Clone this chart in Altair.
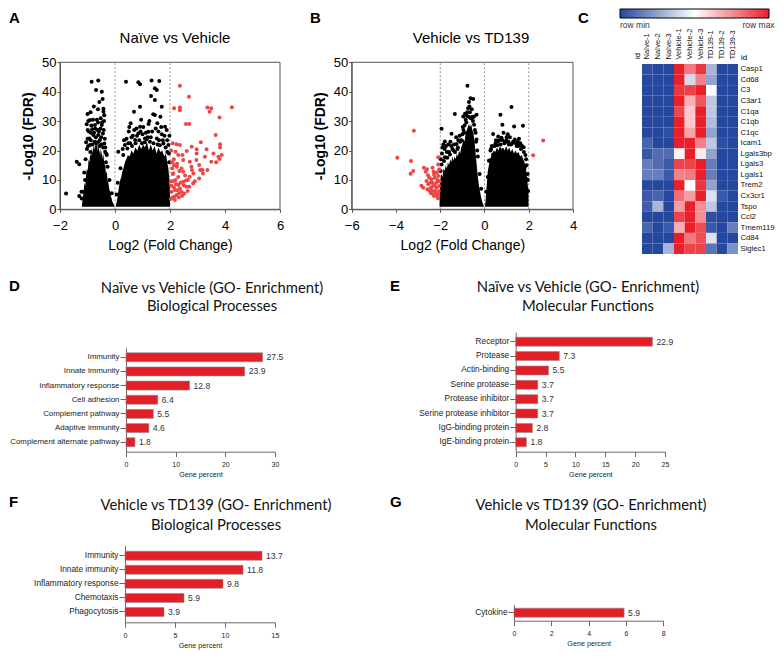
import altair as alt
import pandas as pd

W, H = 768, 643
ARIAL = "Liberation Sans"
TFONT = "Lato"
AX = "#555555"
BAX = "#6a6a6a"
BAR_RED = "#e21f26"
PT_RED = "#ec4646"

# ---------------- Panel A : Naive vs Vehicle volcano ----------------
a_core_left_x = [-1.20, -1.17, -1.14, -1.11, -1.08, -1.05, -1.02, -0.99, -0.96, -0.93, -0.90, -0.87, -0.84,
                 -0.81, -0.78, -0.75, -0.72, -0.69, -0.66, -0.63, -0.60, -0.57, -0.54, -0.51, -0.48, -0.45,
                 -0.42, -0.39, -0.36, -0.33, -0.30, -0.27, -0.24, -0.21, -0.18, -0.15, -0.12, -0.09, -0.06,
                 -0.03, -0.01]
a_core_left_top = [1.5, 4, 6, 9, 8, 12, 14, 13, 17, 16, 19, 18, 21, 19, 22, 20, 23, 21, 24, 20, 22, 19, 21,
                   18, 20, 17, 19, 15, 16, 12, 13, 10, 9, 7, 6, 4.5, 3.5, 2.5, 2, 1.3, 1]
a_core_right_x = [0.03, 0.06, 0.09, 0.12, 0.15, 0.19, 0.23, 0.27, 0.31, 0.36, 0.41, 0.47, 0.53, 0.60, 0.67,
                  0.74, 0.81, 0.88, 0.95, 1.02, 1.09, 1.16, 1.23, 1.30, 1.37, 1.44, 1.51, 1.58, 1.65, 1.72,
                  1.79, 1.85, 1.90, 1.94, 1.97, 1.99, 2.00]
a_core_right_top = [1, 2.5, 4, 6, 8, 10, 11, 13, 14, 16, 17, 18.5, 18, 20, 19, 21, 20, 22, 20.5, 22, 21, 23,
                    20, 22, 20, 21.5, 19, 21, 19.5, 20, 18, 19, 16, 14, 11, 8, 4]
a_black_x = [-0.85, -0.61, -0.69, -0.48, -1.0, -0.42, -0.39, -0.91, -1.03, -0.73, -0.48, -0.79, -0.61, -0.93, -0.55,
             -1.05, -0.39, -1.39, -1.30, -1.78, -1.30, -1.21, -1.15, -1.09, -0.36, -0.91, -0.30,
             -1.12, -1.07, -0.98, -0.88, -0.70, -0.58, -0.50, -0.44, -0.33, -0.27, -0.20, -0.12, -1.22, -0.83,
             -0.66, -0.52, -0.77, -0.57, -0.95, -0.45,
             -1.02, -1.00, -0.99, -0.97, -0.90, -0.88, -0.86, -0.82, -0.80, -0.76, -0.74, -0.72, -0.68, -0.64,
             -0.62, -0.60, -0.56, -0.53, -0.50, -0.47, -0.43, -0.41, -0.40, -0.37, -0.35, -0.32, -0.42, -0.62,
             -0.89,
             0.40, 0.85, 0.91, 1.33, 1.61, 1.45, 1.52, 1.31, 1.45, 0.91, 0.69, 1.70, 1.39, 1.45, 0.57, 1.54,
             0.91, 1.82, 1.88, 1.21, 0.85, 0.36, 0.45, 0.12, 1.76, 1.94, 1.09, 1.52, 0.73,
             0.20, 0.30, 0.55, 0.65, 1.00, 1.15, 1.30, 1.60, 1.70, 1.90, 1.97, 0.10, 0.06, 0.95, 1.25, 1.65,
             0.50, 0.78,
             0.28, 0.33, 0.42, 0.48, 0.52, 0.60, 0.62, 0.70, 0.75, 0.80, 0.88, 0.93, 0.98, 1.03, 1.08, 1.12,
             1.18, 1.22, 1.27, 1.35, 1.40, 1.48, 1.55, 1.58, 1.63, 1.68, 1.74, 1.80, 1.84, 1.90, 1.96, 1.98]
a_black_y = [43.4, 43.8, 40.6, 40.0, 32.4, 33.2, 32.0, 30.4, 28.9, 28.7, 28.7, 25.3, 25.3, 24.1, 23.6,
             22.8, 22.4, 16.2, 15.3, 5.4, 4.5, 3.7, 6.0, 10.0, 19.6, 21.9, 18.5,
             12.5, 17.0, 21.5, 23.5, 24.5, 26.5, 24.5, 25.8, 16.0, 14.5, 10.0, 5.5, 6.0, 27.2,
             30.5, 31.0, 35.0, 36.5, 26.5, 37.5,
             20.5, 24.0, 27.0, 30.0, 19.5, 26.0, 28.5, 22.0, 30.5, 26.0, 23.0, 27.5, 22.5, 27.0,
             29.5, 23.0, 21.5, 27.5, 22.0, 29.5, 21.0, 27.0, 30.0, 24.0, 21.0, 19.0, 34.2, 34.0,
             33.0,
             43.4, 43.2, 42.5, 43.8, 43.6, 41.2, 40.6, 38.5, 37.2, 34.9, 33.2, 34.9, 32.3, 32.1, 29.3, 29.3,
             28.1, 28.1, 27.0, 26.4, 25.9, 21.9, 20.7, 19.6, 22.4, 21.9, 24.1, 24.1, 23.6,
             14.0, 18.5, 22.5, 25.0, 25.5, 23.8, 24.5, 23.5, 25.5, 19.5, 16.0, 9.0, 5.0, 30.5, 30.0, 31.5,
             26.5, 27.5,
             20.5, 23.5, 24.0, 22.5, 28.0, 24.5, 21.5, 27.0, 22.5, 25.0, 23.5, 26.5, 22.5, 28.0, 22.8, 26.0,
             24.5, 29.0, 23.0, 26.5, 22.5, 27.5, 22.0, 26.5, 21.8, 28.0, 23.5, 25.0, 21.0, 23.5, 19.0, 25.0]
a_red_x = [2.36, 2.69, 2.15, 2.36, 2.36, 3.36, 3.50, 3.44, 4.25, 3.80, 2.58, 2.70, 3.66, 2.24, 2.36, 3.12,
           3.82, 3.82, 2.79, 2.97, 3.33, 2.61, 3.58, 3.88, 3.76, 3.27, 2.97, 2.30, 2.48, 2.72, 2.96, 3.50,
           3.68, 3.80, 3.06, 2.78, 2.42, 3.18, 2.85, 2.48, 2.12, 2.72, 3.06, 2.48, 2.84, 2.30, 2.60, 2.18,
           2.42, 2.24, 2.36, 2.20, 2.15, 2.20, 2.45, 2.90, 2.15, 2.52, 2.70, 2.30, 3.10, 3.36, 3.20, 2.80,
           2.05, 2.10, 2.08, 2.25, 2.12, 2.55, 2.65, 2.33,
           2.03, 2.06, 2.10, 2.14, 2.18, 2.22, 2.27, 2.32, 2.38, 2.44, 2.50, 2.58, 2.64, 2.04, 2.08, 2.14,
           2.26, 2.34, 2.04, 2.10]
a_red_y = [42.0, 38.3, 34.4, 34.6, 33.7, 34.6, 34.4, 33.2, 34.7, 31.2, 29.0, 29.0, 25.3, 22.1, 21.9, 22.8,
           22.1, 21.0, 21.3, 20.4, 20.4, 19.8, 19.0, 18.5, 17.9, 17.9, 19.0, 18.5, 16.8, 16.2, 16.8, 16.2,
           16.0, 17.1, 15.1, 14.5, 13.9, 13.4, 12.2, 12.8, 12.2, 11.1, 10.5, 9.4, 8.8, 8.3, 7.7, 6.6,
           6.0, 4.9, 7.1, 10.0, 15.0, 19.6, 18.5, 9.5, 4.3, 5.4, 7.7, 11.0, 13.4, 13.4, 12.2, 13.4,
           8.0, 12.0, 16.0, 14.5, 9.5, 11.5, 10.0, 5.5,
           3.5, 6.0, 4.0, 7.5, 3.2, 8.5, 6.5, 4.0, 9.0, 4.6, 8.2, 9.8, 6.2, 9.5, 14.0, 17.0,
           15.5, 13.0, 20.0, 22.5]
a_cuts = [0, 2]
a_xticks = [-2, 0, 2, 4, 6]

# ---------------- Panel B : Vehicle vs TD139 volcano ----------------
b_core_left_x = [-2.03, -2.0, -1.95, -1.9, -1.85, -1.8, -1.75, -1.7, -1.65, -1.6, -1.55, -1.5, -1.45, -1.4,
                 -1.35, -1.3, -1.25, -1.2, -1.15, -1.1, -1.05, -1.0, -0.95, -0.9, -0.85, -0.8, -0.75, -0.7,
                 -0.65, -0.6, -0.55, -0.5, -0.45, -0.4, -0.35, -0.3, -0.25, -0.2, -0.15, -0.1, -0.05, -0.02]
b_core_left_top = [2, 10, 12, 11, 14, 13, 15, 14, 16, 15, 17, 16, 18, 16.5, 18, 17, 19, 18, 20, 19, 21, 22,
                   24, 23, 26, 27, 28, 29, 28, 29, 27, 26, 23, 19, 15, 11, 8, 6, 4, 2.5, 1.5, 1]
b_core_right_x = [0.02, 0.05, 0.08, 0.11, 0.15, 0.2, 0.25, 0.3, 0.36, 0.42, 0.49, 0.56, 0.63, 0.7, 0.77, 0.84,
                  0.91, 0.98, 1.05, 1.12, 1.19, 1.26, 1.33, 1.4, 1.47, 1.54, 1.61, 1.68, 1.75, 1.81, 1.87,
                  1.92, 1.96, 1.99]
b_core_right_top = [1, 3, 6, 9, 13, 15, 17, 18, 19, 20, 19.5, 21, 20, 21.5, 20.5, 21, 20, 21.5, 20, 21, 19.5,
                    20.5, 19, 20, 19, 19.5, 18, 18.5, 17, 16, 14, 11, 8, 5]
b_black_x = [-0.77, -0.63, -0.51, -0.74, -1.34, -0.96, -0.81, -0.59, -0.36, -1.94, -1.49, -1.79, -1.64, -1.26,
             -0.47, -0.36, -1.79, -1.83, -1.56, -1.94,
             -1.10, -1.00, -0.90, -1.70, -1.40, -1.20, -0.85, -0.66, -0.55, -0.40, -0.30, -0.22, -0.15, -1.98,
             -1.90, -1.50, -0.95, -0.70,
             -1.97, -1.92, -1.86, -1.80, -1.74, -1.68, -1.60, -1.54, -1.45, -1.38, -1.33, -1.28, -1.22, -1.18,
             -1.12, -1.05, -0.98, -0.92, -0.88, -0.82, -0.78, -0.72, -0.68, -0.62, -0.57, -0.52, -0.48, -0.43,
             -0.38, -0.33,
             1.22, 0.72, 0.81, 1.34, 1.74, 0.39, 0.62, 0.99, 1.59, 1.77, 0.24, 0.39, 1.82, 1.92, 1.97, 1.37, 0.77,
             0.15, 0.30, 0.50, 0.90, 1.10, 1.25, 1.45, 1.65, 1.88, 1.95, 0.08, 0.60, 1.05, 1.50,
             0.20, 0.27, 0.33, 0.45, 0.52, 0.58, 0.67, 0.73, 0.82, 0.86, 0.93, 1.00, 1.08, 1.15, 1.20, 1.30,
             1.42, 1.52, 1.56, 1.62, 1.70, 1.78, 1.85, 1.90, 1.96]
b_black_y = [42.0, 37.8, 37.5, 34.4, 32.4, 31.6, 31.8, 31.0, 32.2, 27.4, 25.7, 23.1, 22.0, 22.2,
             28.8, 23.7, 17.7, 16.4, 18.6, 15.2,
             23.0, 25.5, 28.5, 19.5, 20.0, 21.0, 30.5, 33.0, 31.5, 26.0, 18.0, 12.0, 7.0, 13.0,
             21.0, 21.5, 27.0, 36.5,
             17.0, 19.0, 22.0, 20.5, 21.5, 17.5, 19.5, 23.0, 20.5, 22.0, 19.5, 24.5, 20.5, 23.5,
             25.0, 23.5, 28.0, 26.0, 32.5, 29.5, 33.0, 31.5, 35.0, 31.0, 34.0, 30.0, 31.5, 27.0,
             23.0, 20.0,
             34.8, 32.2, 28.8, 28.2, 28.4, 25.6, 24.8, 23.4, 21.8, 21.1, 16.6, 18.6, 14.1, 10.2, 6.2, 23.7, 24.3,
             11.0, 20.5, 22.5, 22.5, 22.0, 22.5, 21.5, 20.5, 17.0, 12.0, 6.0, 23.0, 25.5, 23.0,
             16.5, 20.0, 21.5, 21.5, 23.5, 21.8, 23.5, 22.0, 23.5, 26.0, 22.8, 24.5, 23.0, 24.5, 22.0, 23.0,
             22.5, 21.5, 24.0, 22.5, 21.5, 19.5, 18.5, 15.0, 10.0]
b_red_x = [-3.19, -3.94, -3.32, -3.22, -3.34, -2.74, -2.65, -2.35, -2.09, -2.09, -2.77, -2.54, -2.39, -2.32,
           -2.24, -2.17, -2.47, -2.24, -2.09, -2.32, -2.17, -2.09, -2.62, -2.50, -2.05, -2.06, -2.42, -2.35,
           -2.20, -2.12, -2.28, -2.42, -2.58, -2.15, -2.28, -2.60, -2.85, 2.20, 2.65,
           -2.03, -2.10, -2.18, -2.26, -2.38, -2.45, -2.55, -2.30, -2.05, -2.12]
b_red_y = [26.7, 17.5, 16.4, 13.0, 12.1, 14.1, 12.8, 14.1, 17.7, 15.2, 7.3, 8.5, 10.2, 7.9,
           10.7, 9.0, 6.2, 6.2, 5.1, 5.1, 7.3, 11.3, 9.6, 10.7, 7.9, 6.2, 7.3, 9.0,
           5.6, 4.2, 4.5, 5.5, 6.8, 12.5, 11.8, 13.6, 8.0, 18.4, 23.4,
           9.5, 3.8, 4.8, 8.2, 6.4, 9.0, 11.6, 12.8, 13.5, 10.0]
b_cuts = [-2, 0, 2]
b_xticks = [-6, -4, -2, 0, 2, 4]
fdr_ticks = [0, 10, 20, 30, 40, 50]

# ---------------- Panel C : heatmap ----------------
samples = ["Naïve-1", "Naïve-2", "Naïve-3", "Vehicle-1", "Vehicle-2", "Vehicle-3", "TD139-1", "TD139-2", "TD139-3"]
genes = ["Casp1", "Cd68", "C3", "C3ar1", "C1qa", "C1qb", "C1qc", "Icam1", "Lgals3bp", "Lgals3",
         "Lgals1", "Trem2", "Cx3cr1", "Tspo", "Ccl2", "Tmem119", "Cd84", "Siglec1"]
heat_rows = [
    [0.02, 0.00, 0.00, 1.00, 0.80, 0.95, 0.30, 0.00, 0.00],
    [0.00, 0.00, 0.00, 1.00, 0.40, 0.78, 0.25, 0.00, 0.00],
    [0.00, 0.00, 0.00, 0.95, 0.93, 1.00, 0.50, 0.00, 0.00],
    [0.00, 0.00, 0.00, 1.00, 0.68, 0.88, 0.35, 0.00, 0.00],
    [0.00, 0.00, 0.00, 0.92, 0.62, 1.00, 0.35, 0.00, 0.00],
    [0.00, 0.00, 0.00, 1.00, 0.62, 1.00, 0.32, 0.00, 0.00],
    [0.00, 0.00, 0.02, 1.00, 0.70, 1.00, 0.25, 0.00, 0.00],
    [0.08, 0.00, 0.00, 1.00, 1.00, 0.78, 0.35, 0.02, 0.00],
    [0.04, 0.10, 0.10, 0.52, 1.00, 0.55, 0.25, 0.00, 0.00],
    [0.15, 0.10, 0.05, 0.92, 0.92, 1.00, 0.15, 0.00, 0.00],
    [0.15, 0.15, 0.05, 0.78, 0.80, 1.00, 0.15, 0.00, 0.00],
    [0.00, 0.00, 0.00, 1.00, 0.50, 0.95, 0.25, 0.00, 0.00],
    [0.05, 0.08, 0.00, 0.82, 0.72, 1.00, 0.42, 0.05, 0.00],
    [0.06, 0.30, 0.00, 0.72, 1.00, 0.75, 0.35, 0.00, 0.00],
    [0.00, 0.00, 0.00, 0.92, 1.00, 0.75, 0.02, 0.00, 0.00],
    [0.08, 0.00, 0.05, 0.68, 1.00, 0.90, 0.05, 0.00, 0.15],
    [0.00, 0.00, 0.00, 1.00, 0.80, 0.90, 0.42, 0.00, 0.00],
    [0.00, 0.00, 0.30, 1.00, 0.92, 0.92, 0.12, 0.00, 0.20],
]

# ---------------- Panels D-G : GO enrichment bars ----------------
d_cats = ["Immunity", "Innate immunity", "Inflammatory response", "Cell adhesion",
          "Complement pathway", "Adaptive immunity", "Complement alternate pathway"]
d_vals = [27.5, 23.9, 12.8, 6.4, 5.5, 4.6, 1.8]
e_cats = ["Receptor", "Protease", "Actin-binding", "Serine protease", "Protease inhibitor",
          "Serine protease inhibitor", "IgG-binding protein", "IgE-binding protein"]
e_vals = [22.9, 7.3, 5.5, 3.7, 3.7, 3.7, 2.8, 1.8]
f_cats = ["Immunity", "Innate immunity", "Inflammatory response", "Chemotaxis", "Phagocytosis"]
f_vals = [13.7, 11.8, 9.8, 5.9, 3.9]
g_cats = ["Cytokine"]
g_vals = [5.9]


def text(txt, x, y, size, font=ARIAL, weight="normal", align="center", baseline="middle",
         angle=0, color="black"):
    kw = dict(font=font, fontSize=size, fontWeight=weight, align=align, baseline=baseline, color=color)
    if angle:
        kw["angle"] = angle
    return alt.Chart().mark_text(**kw).encode(x=alt.value(x), y=alt.value(y), text=alt.value(txt))


Y0, Y50 = 201.3, 54.3


def volcano(lx, ltop, rx, rtop, bx, by, rdx, rdy, cuts, xdom, xticks, xr):
    xs = alt.Scale(domain=xdom, range=xr, nice=False, zero=False)
    ys = alt.Scale(domain=[0, 50], range=[Y0, Y50], nice=False, zero=False)
    xaxis = alt.Axis(orient="bottom", offset=Y0 - H, values=xticks, title="Log2 (Fold Change)", grid=False,
                     tickSize=3, labelPadding=7, titlePadding=6, labelFontSize=13, titleFontSize=14,
                     titleFontWeight="normal", labelColor="black", titleColor="black", domainColor=AX,
                     tickColor=AX, labelFont=ARIAL, titleFont=ARIAL, labelFlush=False)
    yaxis = alt.Axis(orient="left", offset=-xr[0], values=fdr_ticks, title="-Log10 (FDR)", grid=False,
                     tickSize=3, labelPadding=1, titlePadding=6, labelFontSize=13, titleFontSize=14,
                     titleFontWeight="bold", labelColor="black", titleColor="black", domainColor=AX,
                     tickColor=AX, labelFont=ARIAL, titleFont=ARIAL)

    def X(f):
        return alt.X(f, type="quantitative", scale=xs, axis=xaxis)

    def Y(f):
        return alt.Y(f, type="quantitative", scale=ys, axis=yaxis)

    box_df = pd.DataFrame({"px": [xdom[0]], "px2": [xdom[1]], "py": [0], "py2": [50]})
    box = alt.Chart(box_df).mark_rect(fillOpacity=0, stroke=AX, strokeWidth=1).encode(
        x=X("px"), x2="px2", y=Y("py"), y2="py2")
    cut_df = pd.DataFrame({"px": cuts, "py": [0] * len(cuts), "py2": [50] * len(cuts)})
    rules = alt.Chart(cut_df).mark_rule(color="#777777", strokeDash=[2, 2], strokeWidth=0.8).encode(
        x=X("px"), y=Y("py"), y2="py2")
    left = pd.DataFrame({"px": lx, "py": ltop, "py2": [0.9] * len(lx)})
    right = pd.DataFrame({"px": rx, "py": rtop, "py2": [0.9] * len(rx)})
    area_l = alt.Chart(left).mark_area(color="black").encode(x=X("px"), y=Y("py"), y2="py2")
    area_r = alt.Chart(right).mark_area(color="black").encode(x=X("px"), y=Y("py"), y2="py2")
    blk = alt.Chart(pd.DataFrame({"px": bx, "py": by})).mark_circle(size=16, opacity=1, color="black").encode(
        x=X("px"), y=Y("py"))
    red = alt.Chart(pd.DataFrame({"px": rdx, "py": rdy})).mark_circle(size=16, opacity=1, color=PT_RED).encode(
        x=X("px"), y=Y("py"))
    return alt.layer(rules, area_l, area_r, blk, red, box)


def bars(cats, vals, xmax, xticks, xr, yr, pouter, lab_size):
    df = pd.DataFrame({"cat": cats, "val": vals})
    xs = alt.Scale(domain=[0, xmax], range=xr, nice=False, zero=True)
    ys = alt.Scale(domain=cats, range=yr, paddingInner=0, paddingOuter=pouter)
    xaxis = alt.Axis(orient="bottom", offset=yr[1] - H, values=xticks, title="Gene percent", grid=False,
                     tickSize=5, labelPadding=4, titlePadding=3, labelFontSize=7, titleFontSize=7.2,
                     titleFontWeight="normal", labelColor="#222222", titleColor="#222222",
                     domainColor=BAX, tickColor=BAX, labelFont=ARIAL, titleFont=ARIAL, labelFlush=False)
    yaxis = alt.Axis(orient="left", offset=-xr[0], title=None, grid=False, tickSize=6, labelPadding=1,
                     labelFontSize=lab_size, labelColor="#222222", domainColor=BAX, tickColor=BAX,
                     labelFont=ARIAL, labelLimit=0)
    b = alt.Chart(df).mark_bar(size=9, color=BAR_RED, stroke="#8c8c8c", strokeWidth=0.6).encode(
        x=alt.X("val:Q", scale=xs, axis=xaxis), y=alt.Y("cat:N", scale=ys, axis=yaxis))
    t = alt.Chart(df).mark_text(align="left", baseline="middle", dx=4, fontSize=8.6, font=ARIAL,
                                color="#333333").encode(
        x=alt.X("val:Q", scale=xs, axis=xaxis), y=alt.Y("cat:N", scale=ys, axis=yaxis),
        text=alt.Text("val:Q", format=".1f"))
    return alt.layer(b, t)


# heatmap
heat_df = pd.DataFrame([{"gene": g, "sample": s, "v": row[j]}
                        for g, row in zip(genes, heat_rows) for j, s in enumerate(samples)])
hx = alt.Scale(domain=samples, range=[634, 730], paddingInner=0, paddingOuter=0)
hy = alt.Scale(domain=genes, range=[56, 246], paddingInner=0, paddingOuter=0)
heat = alt.Chart(heat_df).mark_rect().encode(
    x=alt.X("sample:N", scale=hx,
            axis=alt.Axis(orient="top", offset=-56, labelAngle=270, labelAlign="left", labelBaseline="middle",
                          ticks=False, domain=False, labelPadding=5, labelFontSize=7.5, title=None,
                          labelFont=ARIAL, labelColor="#111111", grid=False)),
    y=alt.Y("gene:N", scale=hy,
            axis=alt.Axis(orient="right", offset=730 - W, ticks=False, domain=False, labelPadding=2,
                          labelFontSize=7.7, title=None, labelFont=ARIAL, labelColor="#111111", grid=False)),
    color=alt.Color("v:Q",
                    scale=alt.Scale(domain=[0, 0.5, 1], range=["#25479e", "#ffffff", "#e9202a"],
                                    interpolate="rgb"),
                    legend=alt.Legend(orient="none", legendX=612, legendY=1, direction="horizontal",
                                      gradientLength=149, gradientThickness=9, values=[0, 0.93],
                                      labelExpr="datum.value < 0.5 ? 'row min' : 'row max'",
                                      title=None, labelFontSize=8.5, labelFont=ARIAL, labelColor="#333333",
                                      gradientStrokeColor="black", gradientStrokeWidth=1, labelOffset=3,
                                      labelAlign="center", padding=0)),
)

panel_a = volcano(a_core_left_x, a_core_left_top, a_core_right_x, a_core_right_top,
                  a_black_x, a_black_y, a_red_x, a_red_y, a_cuts, [-2, 6], a_xticks, [52, 272])
panel_b = volcano(b_core_left_x, b_core_left_top, b_core_right_x, b_core_right_top,
                  b_black_x, b_black_y, b_red_x, b_red_y, b_cuts, [-6, 4], b_xticks, [343.7, 565])

panel_d = bars(d_cats, d_vals, 30, [0, 10, 20, 30], [118, 267], [339.8, 443.7], 0.17, 7.9)
panel_e = bars(e_cats, e_vals, 25, [0, 5, 10, 15, 20, 25], [507.7, 657], [324.3, 443.7], 0.154, 8.3)
panel_f = bars(f_cats, f_vals, 15, [0, 5, 10, 15], [117, 267], [537.4, 614.3], 0.232, 8.3)
panel_g = bars(g_cats, g_vals, 8, [0, 2, 4, 6, 8], [506, 655.3], [596.7, 612.7], 0.3, 8.3)

labels = [
    text("A", 1, 3, 15, weight="bold", align="left", baseline="top"),
    text("B", 302, 3, 15, weight="bold", align="left", baseline="top"),
    text("C", 570, 3, 15, weight="bold", align="left", baseline="top"),
    text("D", 1, 271, 15, weight="bold", align="left", baseline="top"),
    text("E", 382, 271, 15, weight="bold", align="left", baseline="top"),
    text("F", 1, 487, 15, weight="bold", align="left", baseline="top"),
    text("G", 382, 487, 15, weight="bold", align="left", baseline="top"),
    text("Naïve vs Vehicle", 167, 30, 15),
    text("Vehicle vs TD139", 463, 30, 15),
    text("id", 629.5, 51, 7.5, align="left", angle=270),
    text("id", 733, 52, 8, align="left", baseline="alphabetic"),
    text("Naïve vs Vehicle (GO- Enrichment)", 204, 281, 14.8, font=TFONT, color="#111111"),
    text("Biological Processes", 204, 299, 14.8, font=TFONT, color="#111111"),
    text("Naïve vs Vehicle (GO- Enrichment)", 580, 280, 14.8, font=TFONT, color="#111111"),
    text("Molecular Functions", 580, 299, 14.8, font=TFONT, color="#111111"),
    text("Vehicle vs TD139 (GO- Enrichment)", 208, 498, 14.8, font=TFONT, color="#111111"),
    text("Biological Processes", 208, 518, 14.8, font=TFONT, color="#111111"),
    text("Vehicle vs TD139 (GO- Enrichment)", 583, 498, 14.8, font=TFONT, color="#111111"),
    text("Molecular Functions", 583, 518, 14.8, font=TFONT, color="#111111"),
]

chart = alt.layer(panel_a, panel_b, heat, panel_d, panel_e, panel_f, panel_g, *labels).resolve_scale(
    x="independent", y="independent", color="independent"
).properties(
    width=W, height=H, autosize=alt.AutoSizeParams(type="none"), padding=0
).configure_view(strokeWidth=0)

chart.save("out.html", embed_options={"renderer": "svg", "actions": False})
